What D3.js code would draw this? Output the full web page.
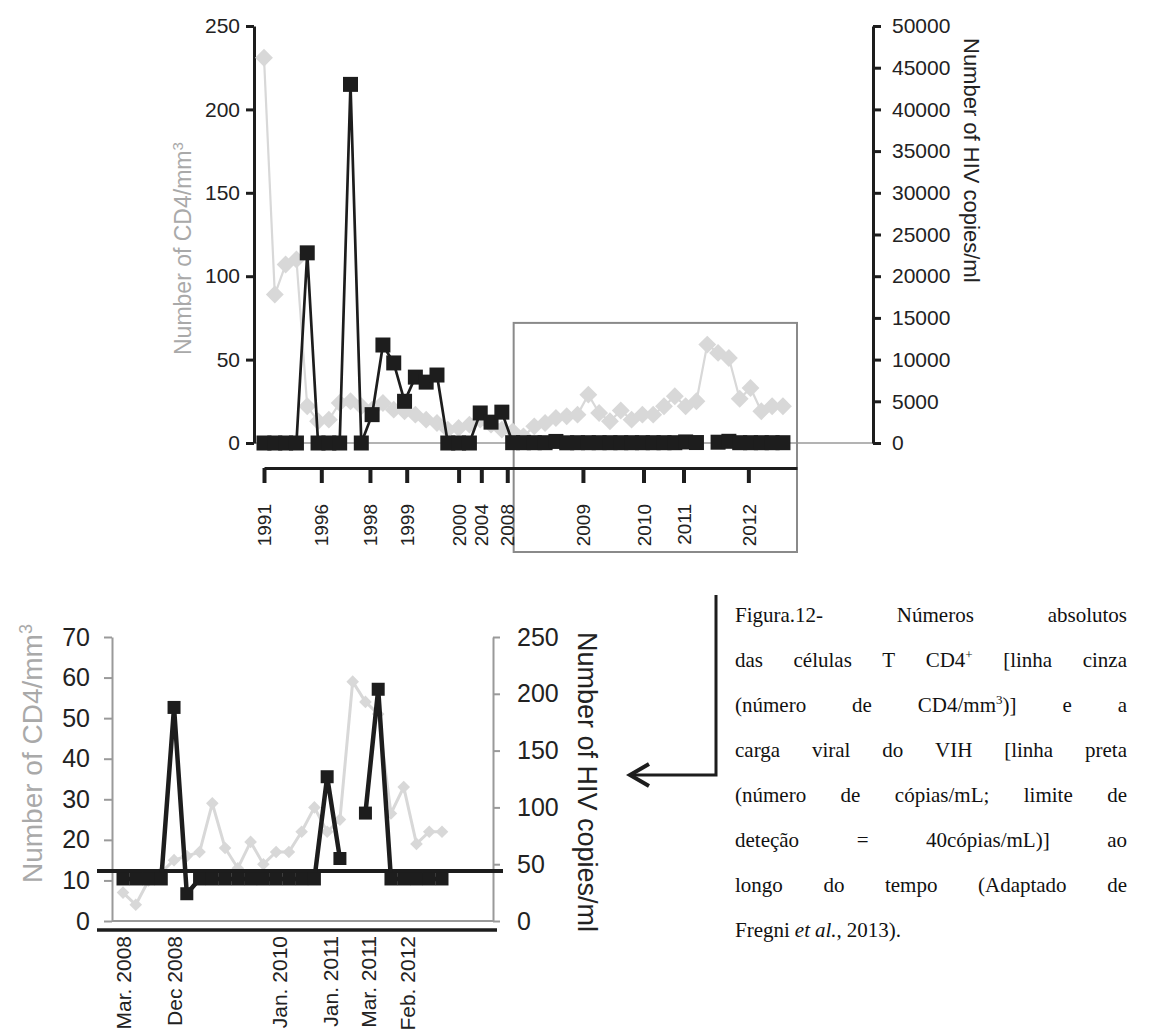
<!DOCTYPE html>
<html><head><meta charset="utf-8">
<script src="https://cdn.jsdelivr.net/npm/d3@7"></script>
<style>body{margin:0;background:#fff}svg{display:block}</style>
</head><body>
<svg id="c" width="1153" height="1034"></svg>
<script>
// ---------- DATA ----------
// CD4 count per measurement (cells/mm3), index = measurement order
const cd4 = [231, 89, 107, 110, 22, 13, 14, 24, 25, 22, 20, 24, 20, 19, 17, 14, 12, 8, 9, 11, 14, 11, 8,
             7, 4, 10, 12, 15, 16, 17, 29, 18, 13, 19.5, 14, 17, 17, 22, 28, 22, 25, 59, 54, 51, 26.5, 33, 19, 22, 22];
// HIV copies/ml per measurement (null = not measured)
const hiv = [0, 0, 0, 0, 22800, 0, 0, 0, 43000, 0, 3400, 11750, 9600, 5000, 7900, 7300, 8150, 0, 0, 0, 3600, 2500, 3700,
             37, 37, 37, 37, 188, 24, 37, 37, 37, 37, 37, 37, 37, 37, 37, 37, 127, 55, null, 95, 204, 37, 37, 37, 37, 37];
const zoomStart = 23; // first measurement shown in the lower (zoomed) chart
const topTickIdx = [0, 5.3, 9.8, 13.2, 18, 20.1, 22.5, 29.5, 35.1, 38.8, 44.8];
const topTickLabels = ["1991", "1996", "1998", "1999", "2000", "2004", "2008", "2009", "2010", "2011", "2012"];
const topLeftTicks = [0, 50, 100, 150, 200, 250];
const topRightTicks = [0, 5000, 10000, 15000, 20000, 25000, 30000, 35000, 40000, 45000, 50000];
const bottomTickIdx = [0, 4, 12.2, 16.2, 19.2, 22.3];
const bottomTickLabels = ["Mar. 2008", "Dec 2008", "Jan. 2010", "Jan. 2011", "Mar. 2011", "Feb. 2012"];
const bottomLeftTicks = [0, 10, 20, 30, 40, 50, 60, 70];
const bottomRightTicks = [0, 50, 100, 150, 200, 250];
const detectionLine = 44;
const leftTitle = "Number of CD4/mm";
const rightTitle = "Number of HIV copies/ml";
const captionLines = [
  "Figura.12- Números absolutos",
  "das células T CD4^+ [linha cinza",
  "(número de CD4/mm^3)] e a",
  "carga viral do VIH [linha preta",
  "(número de cópias/mL; limite de",
  "deteção = 40cópias/mL)] ao",
  "longo do tempo (Adaptado de",
  "Fregni *et al.*, 2013)."
];

// ---------- STYLE ----------
const FONT = "'Liberation Sans', Arial, Helvetica, sans-serif";
const BLACK = "#1d1d1d", GRAYM = "#d8d8d8", GRAYT = "#a9a9a9", AXG = "#9a9a9a";
const svg = d3.select("#c");
svg.append("rect").attr("width", 1153).attr("height", 1034).attr("fill", "#fff");

// ================= TOP CHART =================
const xT = d3.scaleLinear().domain([0, 49.3]).range([264, 797]);
const yTL = d3.scaleLinear().domain([0, 250]).range([443, 26]);
const yTR = d3.scaleLinear().domain([0, 50000]).range([443, 26]);
const idx = d3.range(cd4.length);

// zero reference line
svg.append("line").attr("x1", 254).attr("x2", 873).attr("y1", yTL(0)).attr("y2", yTL(0))
  .attr("stroke", AXG).attr("stroke-width", 1.5);

// zoom box
svg.append("rect").attr("x", xT(zoomStart) + 1).attr("y", yTL(72)).attr("width", 797 - xT(zoomStart) - 1)
  .attr("height", 552 - yTL(72)).attr("fill", "none").attr("stroke", "#8a8a8a").attr("stroke-width", 2);

function styleAxis(g, color, w, fs, tcolor) {
  g.select(".domain").attr("stroke", color).attr("stroke-width", w);
  g.selectAll(".tick line").attr("stroke", color).attr("stroke-width", w);
  g.selectAll(".tick text").attr("font-family", FONT).attr("font-size", fs).attr("fill", tcolor);
}

const gTL = svg.append("g").attr("transform", "translate(254,0)")
  .call(d3.axisLeft(yTL).tickValues(topLeftTicks).tickSize(8).tickSizeOuter(0).tickPadding(6));
styleAxis(gTL, BLACK, 3, 21, "#222");
const gTR = svg.append("g").attr("transform", "translate(873,0)")
  .call(d3.axisRight(yTR).tickValues(topRightTicks).tickFormat(d3.format("d")).tickSize(8).tickSizeOuter(0).tickPadding(11));
styleAxis(gTR, BLACK, 3, 21, "#222");

// x axis
const gTX = svg.append("g").attr("transform", "translate(0,468)")
  .call(d3.axisBottom(xT).tickValues(topTickIdx).tickFormat((d, i) => topTickLabels[i]).tickSize(15).tickSizeOuter(0));
gTX.select(".domain").attr("stroke", BLACK).attr("stroke-width", 3);
gTX.selectAll(".tick line").attr("stroke", BLACK).attr("stroke-width", 4);
gTX.selectAll(".tick text").attr("font-family", FONT).attr("font-size", 19).attr("fill", "#222")
  .attr("transform", "rotate(-90)").attr("text-anchor", "end").attr("x", -36).attr("y", 0).attr("dy", "0.35em");

// gray CD4 series (left axis)
svg.append("path").datum(idx.filter(i => cd4[i] != null))
  .attr("d", d3.line().x(i => xT(i)).y(i => yTL(cd4[i])))
  .attr("fill", "none").attr("stroke", GRAYM).attr("stroke-width", 2.2);
svg.append("g").selectAll("path").data(idx.filter(i => cd4[i] != null)).join("path")
  .attr("d", d3.symbol(d3.symbolSquare, 160))
  .attr("transform", i => `translate(${xT(i)},${yTL(cd4[i])}) rotate(45)`)
  .attr("fill", GRAYM);

// black HIV series (right axis)
svg.append("path").datum(idx)
  .attr("d", d3.line().defined(i => hiv[i] != null).x(i => xT(i)).y(i => yTR(hiv[i])))
  .attr("fill", "none").attr("stroke", BLACK).attr("stroke-width", 2.7);
svg.append("g").selectAll("path").data(idx.filter(i => hiv[i] != null)).join("path")
  .attr("d", d3.symbol(d3.symbolSquare, 225))
  .attr("transform", i => `translate(${xT(i)},${yTR(hiv[i])})`)
  .attr("fill", BLACK);

// titles
const tl = svg.append("text").attr("transform", "translate(191,355) rotate(-90)")
  .attr("font-family", FONT).attr("font-size", 23).attr("fill", GRAYT).text(leftTitle);
tl.append("tspan").attr("dy", "-0.55em").attr("font-size", 15).text("3");
svg.append("text").attr("transform", "translate(964,38) rotate(90)")
  .attr("font-family", FONT).attr("font-size", 22).attr("fill", "#222").text(rightTitle);

// ================= BOTTOM CHART =================
const bIdx = d3.range(cd4.length - zoomStart);
const cd4B = cd4.slice(zoomStart), hivB = hiv.slice(zoomStart);
const xB = d3.scaleLinear().domain([0, bIdx.length - 1]).range([123, 442]);
const yBL = d3.scaleLinear().domain([0, 70]).range([921, 637]);
const yBR = d3.scaleLinear().domain([0, 250]).range([921, 637]);

svg.append("line").attr("x1", 112).attr("x2", 493).attr("y1", yBL(0)).attr("y2", yBL(0))
  .attr("stroke", AXG).attr("stroke-width", 2);
const gBL = svg.append("g").attr("transform", "translate(112,0)")
  .call(d3.axisLeft(yBL).tickValues(bottomLeftTicks).tickSize(8).tickSizeOuter(0).tickPadding(14));
styleAxis(gBL, AXG, 2, 25, "#222");
const gBR = svg.append("g").attr("transform", "translate(493,0)")
  .call(d3.axisRight(yBR).tickValues(bottomRightTicks).tickSize(7).tickSizeOuter(0).tickPadding(17));
styleAxis(gBR, AXG, 2, 25, "#222");

// x axis
svg.append("line").attr("x1", 97).attr("x2", 497).attr("y1", 930).attr("y2", 930)
  .attr("stroke", BLACK).attr("stroke-width", 3.5);
const gBX = svg.append("g").attr("transform", "translate(0,930)")
  .call(d3.axisBottom(xB).tickValues(bottomTickIdx).tickFormat((d, i) => bottomTickLabels[i]).tickSize(0));
gBX.select(".domain").remove();
gBX.selectAll(".tick text").attr("font-family", FONT).attr("font-size", 21).attr("fill", "#222")
  .attr("transform", "rotate(-90)").attr("text-anchor", "end").attr("x", -6).attr("y", 0).attr("dy", "0.35em");

// gray CD4
svg.append("path").datum(bIdx.filter(i => cd4B[i] != null))
  .attr("d", d3.line().x(i => xB(i)).y(i => yBL(cd4B[i])))
  .attr("fill", "none").attr("stroke", GRAYM).attr("stroke-width", 3);
svg.append("g").selectAll("path").data(bIdx.filter(i => cd4B[i] != null)).join("path")
  .attr("d", d3.symbol(d3.symbolSquare, 80))
  .attr("transform", i => `translate(${xB(i)},${yBL(cd4B[i])}) rotate(45)`)
  .attr("fill", GRAYM);

// detection limit line
svg.append("line").attr("x1", 97).attr("x2", 503).attr("y1", yBR(detectionLine)).attr("y2", yBR(detectionLine))
  .attr("stroke", BLACK).attr("stroke-width", 4);

// black HIV
svg.append("path").datum(bIdx)
  .attr("d", d3.line().defined(i => hivB[i] != null).x(i => xB(i)).y(i => yBR(hivB[i])))
  .attr("fill", "none").attr("stroke", BLACK).attr("stroke-width", 4.5);
svg.append("g").selectAll("path").data(bIdx.filter(i => hivB[i] != null)).join("path")
  .attr("d", d3.symbol(d3.symbolSquare, 169))
  .attr("transform", i => `translate(${xB(i)},${yBR(hivB[i])})`)
  .attr("fill", BLACK);

// titles
const bl = svg.append("text").attr("transform", "translate(42,883) rotate(-90)")
  .attr("font-family", FONT).attr("font-size", 28).attr("fill", GRAYT).text(leftTitle);
bl.append("tspan").attr("dy", "-0.55em").attr("font-size", 18).text("3");
svg.append("text").attr("transform", "translate(578,632) rotate(90)")
  .attr("font-family", FONT).attr("font-size", 27).attr("fill", "#222").text(rightTitle);

// arrow
svg.append("path").attr("d", "M716,595 V775 H632").attr("fill", "none").attr("stroke", BLACK).attr("stroke-width", 3);
svg.append("path").attr("d", "M649,764 L630,775 L649,786").attr("fill", "none").attr("stroke", BLACK)
  .attr("stroke-width", 4).attr("stroke-linejoin", "miter");

// ================= CAPTION =================
const capLeft = 735, capRight = 1127, capTop = 622, capLH = 45;
const capG = svg.append("g").attr("font-family", "'Liberation Serif', 'Times New Roman', serif")
  .attr("font-size", 21).attr("fill", "#111");
let italic = false;
captionLines.forEach((line, li) => {
  const y = capTop + li * capLH;
  const words = line.split(" ");
  const nodes = words.map(w => {
    const t = capG.append("text").attr("y", y);
    let buf = "", pendingDy = 0;
    const flush = () => {
      if (!buf) return;
      const s = t.append("tspan").text(buf).attr("font-style", italic ? "italic" : "normal");
      if (pendingDy) { s.attr("dy", pendingDy); pendingDy = 0; }
      buf = "";
    };
    for (let i = 0; i < w.length; i++) {
      const ch = w[i];
      if (ch === "*") { flush(); italic = !italic; continue; }
      if (ch === "^") {
        flush();
        t.append("tspan").attr("font-size", 13).attr("dy", -8).text(w[i + 1]);
        pendingDy = 8; i++; continue;
      }
      buf += ch;
    }
    flush();
    return t;
  });
  const widths = nodes.map(n => n.node().getComputedTextLength());
  const total = d3.sum(widths);
  const last = li === captionLines.length - 1;
  const gap = (!last && nodes.length > 1) ? (capRight - capLeft - total) / (nodes.length - 1) : 5;
  let x = capLeft;
  nodes.forEach((n, i) => { n.attr("x", x); x += widths[i] + gap; });
});
</script>
</body></html>
